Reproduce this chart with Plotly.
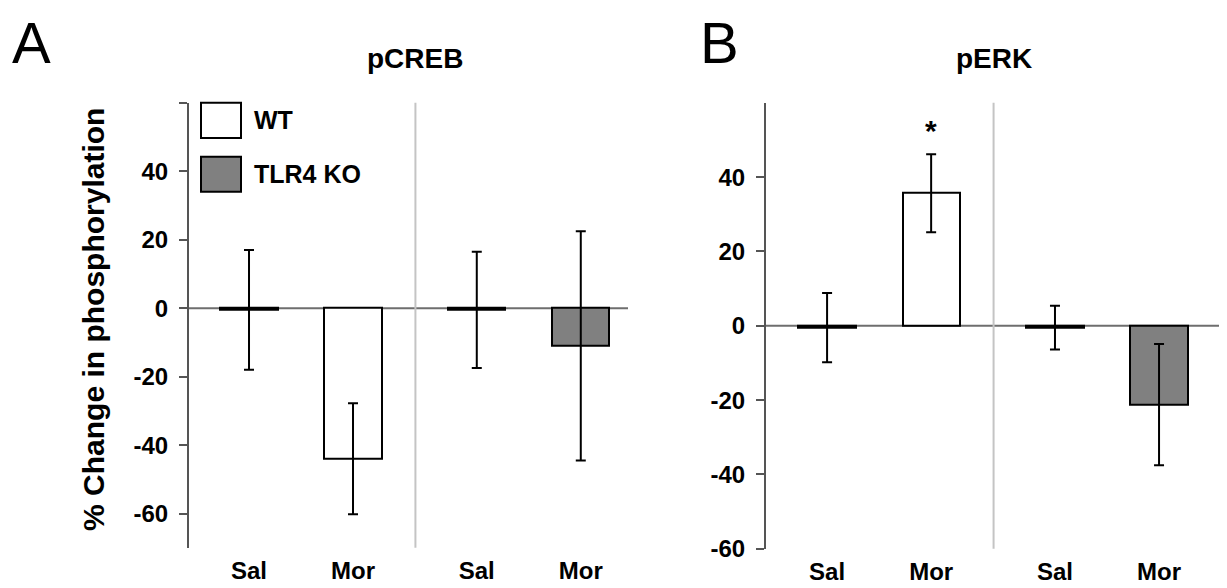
import plotly.graph_objects as go

# ---------------- data ----------------
categories = ["Sal", "Mor", "Sal", "Mor"]
genotypes = ["WT", "WT", "TLR4 KO", "TLR4 KO"]

pcreb_mean = [-0.5, -44.0, -0.5, -11.0]
pcreb_sem = [17.5, 16.2, 17.0, 33.5]

perk_mean = [-0.5, 35.7, -0.5, -21.2]
perk_sem = [9.3, 10.5, 5.9, 16.3]

panel_titles = ["pCREB", "pERK"]
panel_letters = ["A", "B"]
y_title = "% Change in phosphorylation"
legend_labels = ["WT", "TLR4 KO"]

# ---------------- style ----------------
W, H = 1227, 588
FONT = "Liberation Sans, Arial, sans-serif"
fill = {"WT": "#ffffff", "TLR4 KO": "#808080"}
GROUP_GAP = 0.19
xpos = [i + (GROUP_GAP if i >= 2 else 0) for i in range(len(categories))]
sep_x = 1.6


def px_x(p):
    return p / W


def px_y(p):
    return 1 - p / H


def bold(s):
    return "<b>" + s + "</b>" if s else ""


fig = go.Figure()

panels = [
    dict(mean=pcreb_mean, sem=pcreb_sem, xa="x", ya="y",
         xdom=[px_x(181), px_x(620)], ydom=[px_y(552), px_y(97)],
         yrange=[-70, 60], tickvals=[-60, -40, -20, 0, 20, 40, 60],
         ticktext=["-60", "-40", "-20", "0", "20", "40", ""],
         xrange=[-0.577, 3.644]),
    dict(mean=perk_mean, sem=perk_sem, xa="x2", ya="y2",
         xdom=[px_x(758), 1.0], ydom=[px_y(553), px_y(97)],
         yrange=[-60, 60], tickvals=[-60, -40, -20, 0, 20, 40],
         ticktext=["-60", "-40", "-20", "0", "20", "40"],
         xrange=[-0.587, 3.92]),
]

for k, p in enumerate(panels):
    fig.add_trace(go.Bar(
        x=xpos, y=p["mean"], width=0.55,
        marker=dict(color=[fill[g] for g in genotypes],
                    line=dict(color="black", width=2)),
        error_y=dict(type="data", array=p["sem"], visible=True,
                     color="black", thickness=2, width=5),
        xaxis=p["xa"], yaxis=p["ya"], showlegend=False,
        hoverinfo="skip",
    ))

layout = dict(
    width=W, height=H,
    margin=dict(l=0, r=0, t=0, b=0),
    paper_bgcolor="white", plot_bgcolor="white",
    font=dict(family=FONT, color="black"),
    showlegend=False,
    bargap=0,
)

shapes = []
annotations = []
for k, p in enumerate(panels):
    sfx = "" if k == 0 else str(k + 1)
    layout["xaxis" + sfx] = dict(
        domain=p["xdom"], range=p["xrange"], anchor="y" + sfx,
        tickvals=xpos, ticktext=[bold(c) for c in categories], ticks="",
        showline=False, showgrid=False, zeroline=False, fixedrange=True,
        tickfont=dict(family=FONT, size=24, color="black"),
        ticklabelstandoff=6,
    )
    layout["yaxis" + sfx] = dict(
        domain=p["ydom"], range=p["yrange"], anchor="x" + sfx,
        tickvals=p["tickvals"], ticktext=[bold(t) for t in p["ticktext"]],
        ticks="outside", ticklen=8, tickwidth=2, tickcolor="#555555",
        showline=True, linecolor="#555555", linewidth=2,
        showgrid=False, zeroline=False, fixedrange=True,
        tickfont=dict(family=FONT, size=24, color="black"),
        ticklabelstandoff=6,
    )
    # zero line
    shapes.append(dict(type="line", xref=p["xa"] + " domain", yref=p["ya"],
                       x0=0, x1=1, y0=0, y1=0,
                       line=dict(color="#6e6e6e", width=2), layer="below"))
    # group separator
    shapes.append(dict(type="line", xref=p["xa"], yref=p["ya"] + " domain",
                       x0=sep_x, x1=sep_x, y0=0, y1=1,
                       line=dict(color="#c4c4c4", width=2), layer="below"))
    # panel title
    annotations.append(dict(text=bold(panel_titles[k]),
                            xref=p["xa"], yref="paper", x=sep_x, y=px_y(52),
                            xanchor="center", yanchor="middle", showarrow=False,
                            font=dict(family=FONT, size=28, color="black")))

# panel letters
annotations.append(dict(text=panel_letters[0], xref="paper", yref="paper",
                        x=px_x(2), y=1.0, xanchor="left", yanchor="top",
                        showarrow=False, font=dict(family=FONT, size=58, color="black")))
annotations.append(dict(text=panel_letters[1], xref="paper", yref="paper",
                        x=px_x(690), y=1.0, xanchor="left", yanchor="top",
                        showarrow=False, font=dict(family=FONT, size=58, color="black")))

# y-axis title
annotations.append(dict(text=bold(y_title), xref="paper", yref="paper",
                        x=px_x(86), y=px_y(319), textangle=-90,
                        xanchor="center", yanchor="middle", showarrow=False,
                        font=dict(family=FONT, size=30, color="black")))

# significance star over pERK Mor WT
annotations.append(dict(text=bold("*"), xref="x2", yref="y2",
                        x=xpos[1], y=perk_mean[1] + perk_sem[1] + 1.5,
                        xanchor="center", yanchor="bottom", showarrow=False,
                        font=dict(family=FONT, size=30, color="black")))

# manual legend (panel A)
leg_y = [(97, 133), (152, 188)]
for (y0, y1), lab in zip(leg_y, legend_labels):
    shapes.append(dict(type="rect", xref="paper", yref="paper",
                       x0=px_x(193), x1=px_x(233), y0=px_y(y1), y1=px_y(y0),
                       fillcolor=fill[lab], line=dict(color="black", width=2)))
    annotations.append(dict(text=bold(lab), xref="paper", yref="paper",
                            x=px_x(244), y=px_y((y0 + y1) / 2),
                            xanchor="left", yanchor="middle", showarrow=False,
                            font=dict(family=FONT, size=25, color="black")))

layout["shapes"] = shapes
layout["annotations"] = annotations
fig.update_layout(**layout)

fig.write_html("out.html")
